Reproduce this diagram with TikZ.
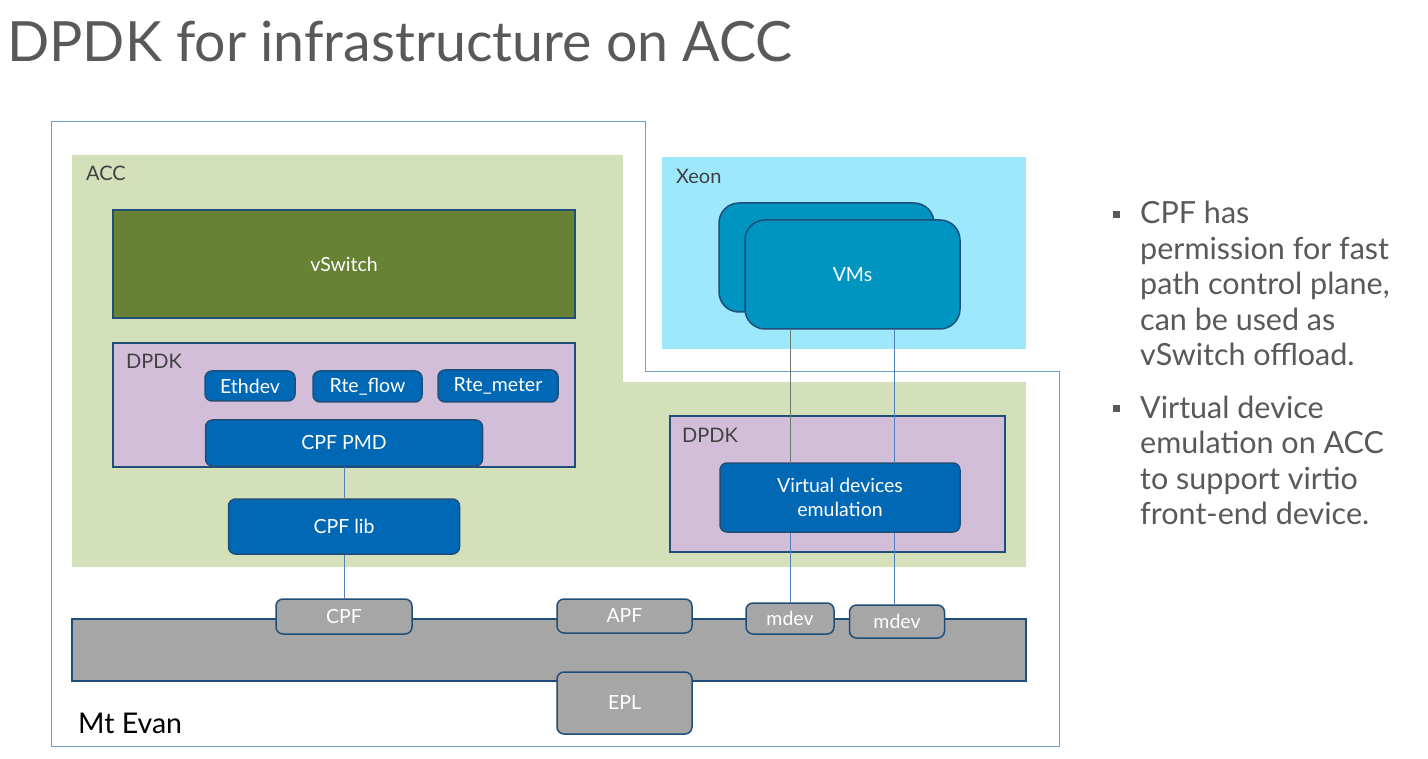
\documentclass[tikz,border=0pt]{standalone}
\usepackage{fontspec}
\setmainfont{Lato}
\definecolor{boxline}{HTML}{1F4E79}
\definecolor{intelblue}{HTML}{0068B5}
\definecolor{accgreen}{HTML}{D4E0BA}
\definecolor{vsw}{HTML}{688235}
\definecolor{dpdkp}{HTML}{D3BEDA}
\definecolor{xeonc}{HTML}{9EE8FC}
\definecolor{vmc}{HTML}{0095C1}
\definecolor{greyc}{HTML}{A6A6A6}
\definecolor{outl}{HTML}{6FA0CC}
\definecolor{lblc}{HTML}{404040}
\definecolor{txtc}{HTML}{595959}
\definecolor{linec}{HTML}{4F81BD}
\definecolor{linegrey}{HTML}{6B7B6B}
\tikzset{
  box/.style={draw=boxline, line width=1.5pt, rounded corners=7pt, text=white,
    font=\fontsize{19.5}{22}\selectfont, inner sep=0pt, align=center},
  bluebox/.style={box, fill=intelblue},
  greybox/.style={box, fill=greyc},
  region/.style={draw=boxline, line width=1.5pt, inner sep=0pt, text=white,
    font=\fontsize{19.5}{22}\selectfont},
  lbl/.style={anchor=west, text=lblc, font=\fontsize{20}{23}\selectfont, inner sep=0pt},
  bul/.style={anchor=base west, text=txtc, font=\fontsize{30.5}{34}\selectfont, inner sep=0pt},
  conn/.style={draw=linec, line width=1pt},
}
\begin{document}
\begin{tikzpicture}[x=1pt,y=-1pt]
\useasboundingbox (0,0) rectangle (1428,759);
\fill[white] (0,0) rectangle (1428,759);
% title
\node[anchor=base west, text=txtc, font=\fontsize{55.5}{60}\selectfont, inner sep=0pt] (title) at (7,62) {DPDK for infrastructure on ACC};
% Mt Evan outline
\draw[outl, line width=1pt] (51,122) -- (645,122) -- (645,372) -- (1059,372) -- (1059,746) -- (51,746) -- cycle;
% ACC area
\fill[accgreen] (72,155) -- (623,155) -- (623,382) -- (1026,382) -- (1026,567) -- (72,567) -- cycle;
\node[lbl] (acc) at (86,173) {ACC};
% Xeon
\fill[xeonc] (662,157) rectangle (1026,349);
\node[lbl] (xeon) at (676,176) {Xeon};
% vSwitch
\node[region, fill=vsw, minimum width=462, minimum height=108] (vswitch) at (344,264) {vSwitch};
% DPDK left
\node[region, fill=dpdkp, minimum width=462, minimum height=124] (dpdk1) at (344,405) {};
\node[lbl] (dpdk1l) at (126,361) {DPDK};
\node[bluebox, minimum width=90, minimum height=30] (ethdev) at (250,386) {Ethdev};
\node[bluebox, minimum width=109, minimum height=31] (rteflow) at (367.5,386.5) {Rte\_flow};
\node[bluebox, minimum width=120, minimum height=32] (rtemeter) at (498,386) {Rte\_meter};
\node[bluebox, minimum width=277, minimum height=46] (cpfpmd) at (344,443) {CPF PMD};
\node[bluebox, minimum width=231, minimum height=55] (cpflib) at (344,526.5) {CPF lib};
% DPDK right
\node[region, fill=dpdkp, minimum width=335, minimum height=136] (dpdk2) at (837.5,484) {};
\node[lbl] (dpdk2l) at (682,435) {DPDK};
\node[bluebox, minimum width=240, minimum height=69, font=\fontsize{19.5}{24}\selectfont] (vde) at (840,497.5) {Virtual devices\\emulation};
% VMs
\node[box, fill=vmc, rounded corners=20pt, minimum width=215, minimum height=109] (vmback) at (826.5,257.5) {};
\node[box, fill=vmc, rounded corners=20pt, minimum width=215, minimum height=109] (vmfront) at (852.5,274.5) {VMs};
% grey bar
\node[region, fill=greyc, minimum width=954, minimum height=62] (bar) at (549,650) {};
\node[greybox, minimum width=136, minimum height=35] (cpf) at (344,616.5) {CPF};
\node[greybox, minimum width=135, minimum height=34] (apf) at (624.5,616) {APF};
\node[greybox, minimum width=88, minimum height=31] (mdevA) at (790,618.5) {mdev};
\node[greybox, minimum width=95, minimum height=33] (mdevB) at (897,621.5) {mdev};
\node[greybox, minimum width=135, minimum height=62] (epl) at (624.5,703) {EPL};
\node[anchor=west, text=black, font=\fontsize{28.5}{32}\selectfont, inner sep=0pt] (mtevan) at (78,723) {Mt Evan};
% connectors
\draw[conn] (cpfpmd) -- (cpflib);
\draw[conn] (cpflib) -- (cpf);
\draw[conn, draw=linegrey] (vmfront.south -| mdevA.north) -- (vde.north -| mdevA.north);
\draw[conn] (vmfront.south -| 894,0) -- (vde.north -| 894,0);
\draw[conn] (vde.south -| mdevA.north) -- (mdevA.north);
\draw[conn] (vde.south -| 894,0) -- (mdevB.north -| 894,0);
% bullets
\fill[txtc] (1113,211) rectangle (1120,218);
\fill[txtc] (1113,405) rectangle (1120,412);
\node[bul] (b1a) at (1140,224) {CPF has};
\node[bul] (b1b) at (1140,259.5) {permission for fast};
\node[bul] (b1c) at (1140,295) {path control plane,};
\node[bul] (b1d) at (1140,330.5) {can be used as};
\node[bul] (b1e) at (1140,366) {vSwitch offload.};
\node[bul] (b2a) at (1140,418) {Virtual device};
\node[bul] (b2b) at (1140,453.5) {emulation on ACC};
\node[bul] (b2c) at (1140,489) {to support virtio};
\node[bul] (b2d) at (1140,524.5) {front-end device.};
\end{tikzpicture}
\end{document}
